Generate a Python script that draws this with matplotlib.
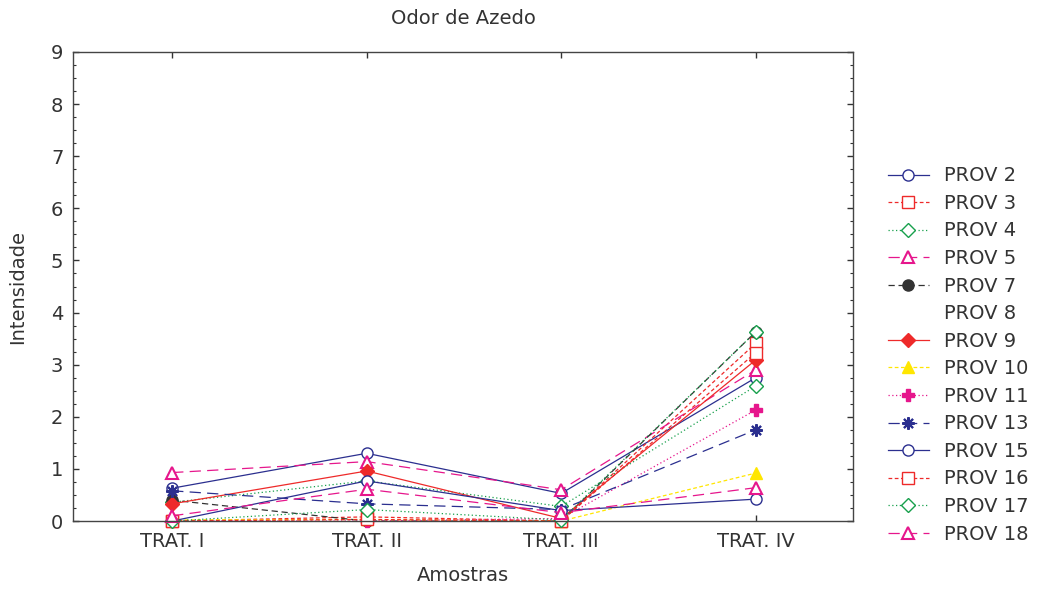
import numpy as np
import matplotlib
matplotlib.use("Agg")
import matplotlib.pyplot as plt
from matplotlib.ticker import MultipleLocator

plt.rcParams['font.family'] = ['DejaVu Sans']

categories = ["TRAT. I", "TRAT. II", "TRAT. III", "TRAT. IV"]
y_ticks = [0, 1, 2, 3, 4, 5, 6, 7, 8, 9]

prov_2 = [0.63, 1.30, 0.53, 2.75]
prov_3 = [0.00, 0.08, 0.00, 3.41]
prov_4 = [0.36, 0.77, 0.28, 2.59]
prov_5 = [0.93, 1.14, 0.60, 2.90]
prov_7 = [0.40, 0.00, 0.00, 3.63]
prov_8 = [np.nan, np.nan, np.nan, np.nan]
prov_9 = [0.33, 0.96, 0.05, 3.09]
prov_10 = [0.02, 0.03, 0.00, 0.92]
prov_11 = [0.00, 0.00, 0.05, 2.13]
prov_13 = [0.58, 0.33, 0.22, 1.75]
prov_15 = [0.00, 0.77, 0.20, 0.42]
prov_16 = [0.00, 0.03, 0.00, 3.23]
prov_17 = [0.00, 0.22, 0.02, 3.63]
prov_18 = [0.10, 0.61, 0.16, 0.64]

BLUE = '#2b2f8f'
RED = '#ee2a2a'
GREEN = '#17a04c'
PINK = '#e6168c'
DARK = '#333333'
YELLOW = '#ffe600'
TXT = '#333333'

series = [
    ("PROV 2", prov_2, dict(color=BLUE, ls='-', marker='o', mfc='white', mec=BLUE, ms=8)),
    ("PROV 3", prov_3, dict(color=RED, ls=(0, (3, 2)), marker='s', mfc='white', mec=RED, ms=8)),
    ("PROV 4", prov_4, dict(color=GREEN, ls=(0, (1, 2)), marker='D', mfc='white', mec=GREEN, ms=7)),
    ("PROV 5", prov_5, dict(color=PINK, ls=(0, (9, 5)), marker='^', mfc='white', mec=PINK, ms=8, mew=1.5)),
    ("PROV 7", prov_7, dict(color=DARK, ls=(0, (5, 3)), marker='o', mfc=DARK, mec=DARK, ms=8)),
    ("PROV 8", prov_8, dict(color='none', ls='none', marker='none')),
    ("PROV 9", prov_9, dict(color=RED, ls='-', marker='D', mfc=RED, mec=RED, ms=7)),
    ("PROV 10", prov_10, dict(color=YELLOW, ls=(0, (3, 2)), marker='^', mfc=YELLOW, mec=YELLOW, ms=9)),
    ("PROV 11", prov_11, dict(color=PINK, ls=(0, (1, 2)), marker='P', mfc=PINK, mec=PINK, ms=9)),
    ("PROV 13", prov_13, dict(color=BLUE, ls=(0, (9, 5)), marker=(8, 2, 0), mfc=BLUE, mec=BLUE, ms=9, mew=1.5)),
    ("PROV 15", prov_15, dict(color=BLUE, ls='-', marker='o', mfc='white', mec=BLUE, ms=8)),
    ("PROV 16", prov_16, dict(color=RED, ls=(0, (3, 2)), marker='s', mfc='white', mec=RED, ms=8)),
    ("PROV 17", prov_17, dict(color=GREEN, ls=(0, (1, 2)), marker='D', mfc='white', mec=GREEN, ms=7)),
    ("PROV 18", prov_18, dict(color=PINK, ls=(0, (9, 5)), marker='^', mfc='white', mec=PINK, ms=8, mew=1.5)),
]

fig = plt.figure(figsize=(10.47, 5.90), dpi=100)
ax = fig.add_axes([0.0697, 0.1169, 0.745, 0.795])

x = np.arange(len(categories))
for label, vals, st in series:
    st = dict(st)
    st.setdefault('mew', 1.0)
    ax.plot(x, vals, label=label, lw=0.9, clip_on=False, **st)

ax.set_xlim(-0.51, 3.50)
ax.set_ylim(0, 9)
ax.set_xticks(x)
ax.set_xticklabels(categories)
ax.set_yticks(y_ticks)
ax.yaxis.set_minor_locator(MultipleLocator(0.25))
ax.tick_params(axis='both', which='both', direction='in', top=True, right=True,
               colors=TXT, labelsize=14)
ax.tick_params(axis='x', pad=8)
ax.tick_params(axis='y', pad=7)
ax.tick_params(which='major', length=4, width=1)
ax.tick_params(which='minor', length=2.5, width=0.8)
for sp in ax.spines.values():
    sp.set_color('#444444')
    sp.set_linewidth(1.0)

ax.set_title("Odor de Azedo", fontsize=14, color=TXT, pad=20)
ax.set_xlabel("Amostras", fontsize=14, color=TXT, labelpad=11)
ax.set_ylabel("Intensidade", fontsize=14, color=TXT, labelpad=17)

leg = fig.legend(loc='upper left', bbox_to_anchor=(0.848, 0.718), frameon=False,
                 fontsize=14, handlelength=2.1, handletextpad=0.8, labelspacing=0.44,
                 borderpad=0, borderaxespad=0)
for t in leg.get_texts():
    t.set_color(TXT)

fig.savefig("out.png", dpi=100)
